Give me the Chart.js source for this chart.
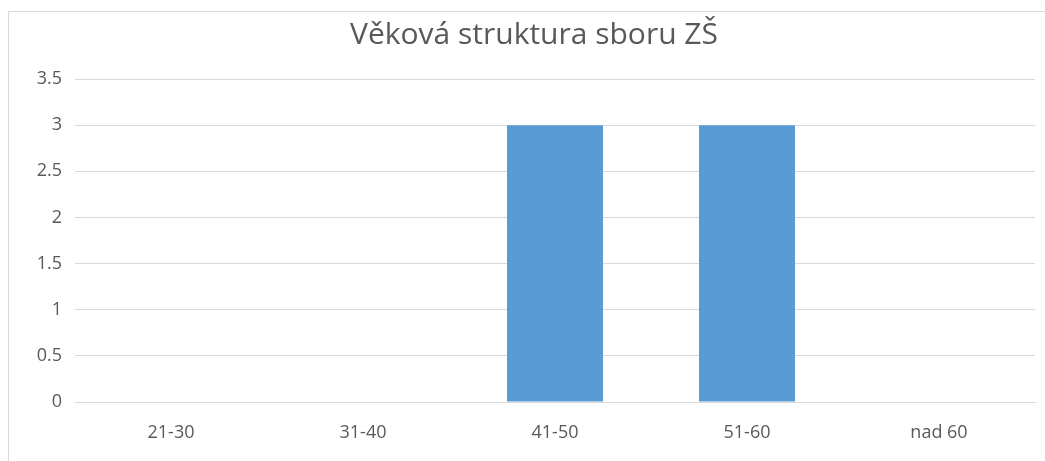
<!DOCTYPE html>
<html lang="cs">
<head>
    <meta charset="UTF-8">
    <title>Věková struktura sboru ZŠ</title>
    <script src="https://cdn.jsdelivr.net/npm/chart.js"></script>
    <style>
        html, body { margin: 0; padding: 0; background: #fff; }
        #wrap { position: relative; width: 1045px; height: 461px; overflow: hidden; }
        #frame { position: absolute; left: 8px; top: 11px; width: 1100px; height: 500px;
                 border: 1px solid #d9d9d9; pointer-events: none; }
        canvas { position: absolute; left: 0; top: 0; }
    </style>
</head>
<body>
    <div id="wrap">
        <canvas id="myChart" width="1045" height="461"></canvas>
        <div id="frame"></div>
    </div>
    <script>
        const categories = ['21-30', '31-40', '41-50', '51-60', 'nad 60'];
        const values = [0, 0, 3, 3, 0];
        const titleText = 'Věková struktura sboru ZŠ';

        const textColor = '#595959';
        const fontFamily = '"Open Sans", "Noto Sans", sans-serif';

        const ctx = document.getElementById('myChart').getContext('2d');
        const myChart = new Chart(ctx, {
            type: 'bar',
            data: {
                labels: categories,
                datasets: [{
                    label: 'Počet',
                    data: values,
                    backgroundColor: '#5b9bd5',
                    borderWidth: 0,
                    categoryPercentage: 1,
                    barPercentage: 0.5
                }]
            },
            options: {
                responsive: false,
                animation: false,
                // levý okraj posouvá nadpis doprava jako v originálu
                layout: { padding: { left: 33, right: 10, top: 0, bottom: 0 } },
                plugins: {
                    legend: { display: false },
                    tooltip: { enabled: false },
                    title: {
                        display: true,
                        text: titleText,
                        color: textColor,
                        font: { family: fontFamily, size: 30, weight: 'normal' },
                        padding: { top: 17, bottom: 26 }
                    }
                },
                scales: {
                    x: {
                        afterFit: (scale) => { scale.height = 59; },
                        grid: { display: false, drawTicks: false },
                        border: { display: true, color: '#d9d9d9', width: 1 },
                        ticks: { color: textColor, font: { family: fontFamily, size: 18 }, padding: 20 }
                    },
                    y: {
                        min: 0,
                        max: 3.5,
                        afterFit: (scale) => { scale.width = 42; },
                        grid: { color: '#d9d9d9', drawTicks: false },
                        border: { display: false },
                        ticks: {
                            stepSize: 0.5,
                            color: textColor,
                            font: { family: fontFamily, size: 18 },
                            padding: 13,
                            callback: (v) => String(v)
                        }
                    }
                }
            }
        });
    </script>
</body>
</html>
